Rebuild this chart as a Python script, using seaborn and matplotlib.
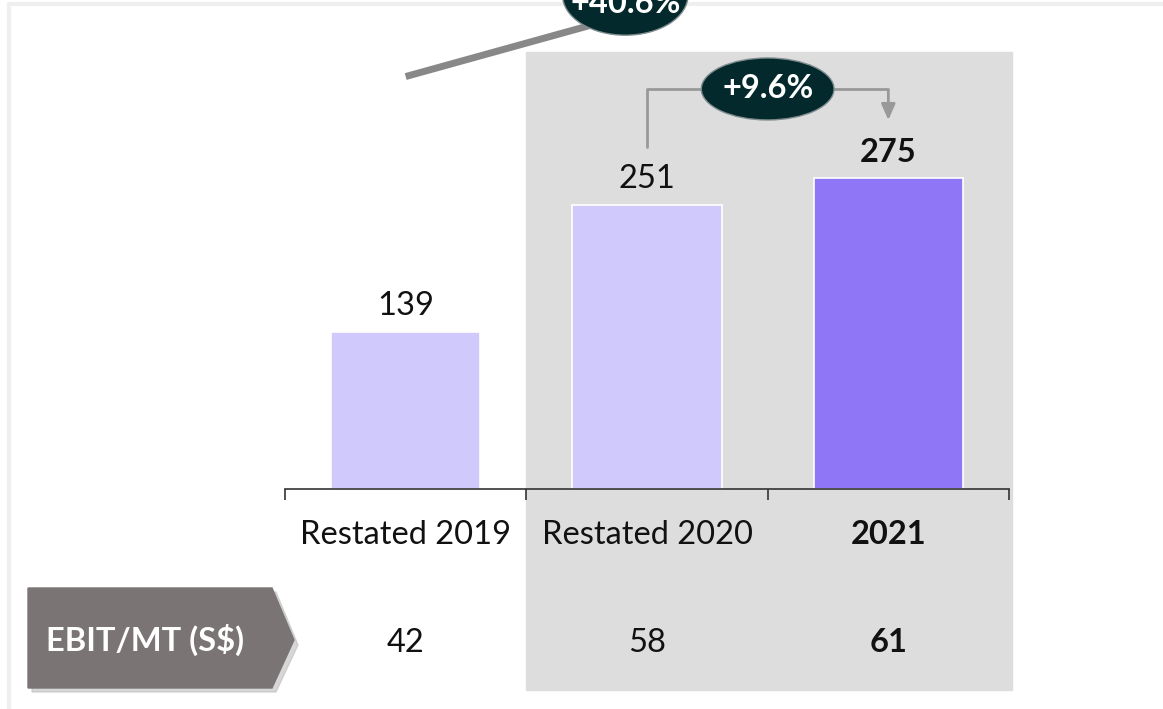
import matplotlib
matplotlib.use("Agg")
import matplotlib.pyplot as plt
import seaborn as sns
import pandas as pd
from matplotlib.patches import Ellipse, Rectangle, Polygon

categories = ["Restated 2019", "Restated 2020", "2021"]
values = [139, 251, 275]
ebit_mt = [42, 58, 61]
bar_colors = ["#d0c9fb", "#d0c9fb", "#8f76f6"]
growth_yoy = "+9.6%"
growth_cagr = "+40.6%"

sns.set_theme(style="white")
plt.rcParams["font.family"] = ["Lato", "DejaVu Sans"]
fs = 23.5

df = pd.DataFrame({"year": categories, "value": values})

fig = plt.figure(figsize=(11.63, 7.09), dpi=100)

# background layer in pixel coordinates
bg = fig.add_axes([0, 0, 1, 1])
bg.set_xlim(0, 1163)
bg.set_ylim(709, 0)
bg.axis("off")
bg.plot([9, 1163], [4, 4], color="#efefef", lw=3)
bg.plot([9, 9], [4, 709], color="#efefef", lw=3)
bg.add_patch(Rectangle((526, 52), 486, 638, color="#dddddd", zorder=0))

# EBIT/MT label box
bg.add_patch(Polygon([[32, 592], [276, 592], [298, 645], [276, 692], [32, 692]],
                     color="#bdbdbd", alpha=0.6, zorder=1))
bg.add_patch(Polygon([[28, 588], [272, 588], [294, 640], [272, 688], [28, 688]],
                     color="#7a7574", zorder=2))
bg.text(145, 640, "EBIT/MT (S$)", color="white", fontsize=fs, fontweight="bold",
        ha="center", va="center", zorder=3)

# main bar axes
base_px = 489
px_per_unit = 1.13
ax = fig.add_axes([285 / 1163, (709 - base_px) / 709, 724 / 1163, base_px / 709])
ax.patch.set_alpha(0)
sns.barplot(data=df, x="year", y="value", hue="year", palette=bar_colors,
            width=0.62, legend=False, ax=ax, edgecolor="white", linewidth=1.2,
            saturation=1)
ax.set_xlim(-0.5, 2.5)
ax.set_ylim(0, base_px / px_per_unit)
for s in ["top", "right", "left"]:
    ax.spines[s].set_visible(False)
ax.spines["bottom"].set_color("#333333")
ax.spines["bottom"].set_linewidth(1.2)
ax.set_yticks([])
ax.set_xticks([-0.5, 0.5, 1.5, 2.5])
ax.set_xticklabels([])
ax.tick_params(axis="x", direction="out", length=8, width=1.2, color="#333333", bottom=True)
ax.set_xlabel("")
ax.set_ylabel("")

for i, (cat, v, e) in enumerate(zip(categories, values, ebit_mt)):
    bold = "bold" if i == len(categories) - 1 else "normal"
    ax.text(i, v + 23, str(v), ha="center", va="center", fontsize=fs,
            fontweight=bold, color="#111111")
    ax.text(i, -46 / px_per_unit, cat, ha="center", va="center", fontsize=fs,
            fontweight=bold, color="#111111", clip_on=False)
    ax.text(i, -154 / px_per_unit, str(e), ha="center", va="center", fontsize=fs,
            fontweight=bold, color="#111111", clip_on=False)

# +9.6% connector
top_y = 354
ax.plot([1, 1, 1.27], [values[1] + 52, top_y, top_y], color="#999999", lw=2, clip_on=False)
ax.plot([1.73, 2], [top_y, top_y], color="#999999", lw=2, clip_on=False)
ax.annotate("", xy=(2, values[2] + 49), xytext=(2, top_y + 1),
            arrowprops=dict(arrowstyle="-|>,head_width=0.35,head_length=0.8",
                            color="#999999", lw=2), annotation_clip=False)
ax.add_patch(Ellipse((1.5, top_y), 0.55, 62 / px_per_unit, facecolor="#03292d",
                     edgecolor="#7f8c8d", lw=1, clip_on=False, zorder=5))
ax.text(1.5, top_y, growth_yoy, color="white", fontsize=fs, fontweight="bold",
        ha="center", va="center", zorder=6, clip_on=False)

# +40.6% connector
ax.plot([0, 0.76], [365, 410], color="#888888", lw=5, clip_on=False, solid_capstyle="butt")
ax.add_patch(Ellipse((0.91, 437), 0.52, 80 / px_per_unit, facecolor="#03292d",
                     edgecolor="#7f8c8d", lw=1, clip_on=False, zorder=5))
ax.text(0.91, 430, growth_cagr, color="white", fontsize=fs, fontweight="bold",
        ha="center", va="center", zorder=6, clip_on=False)

fig.savefig("out.png", dpi=100)
